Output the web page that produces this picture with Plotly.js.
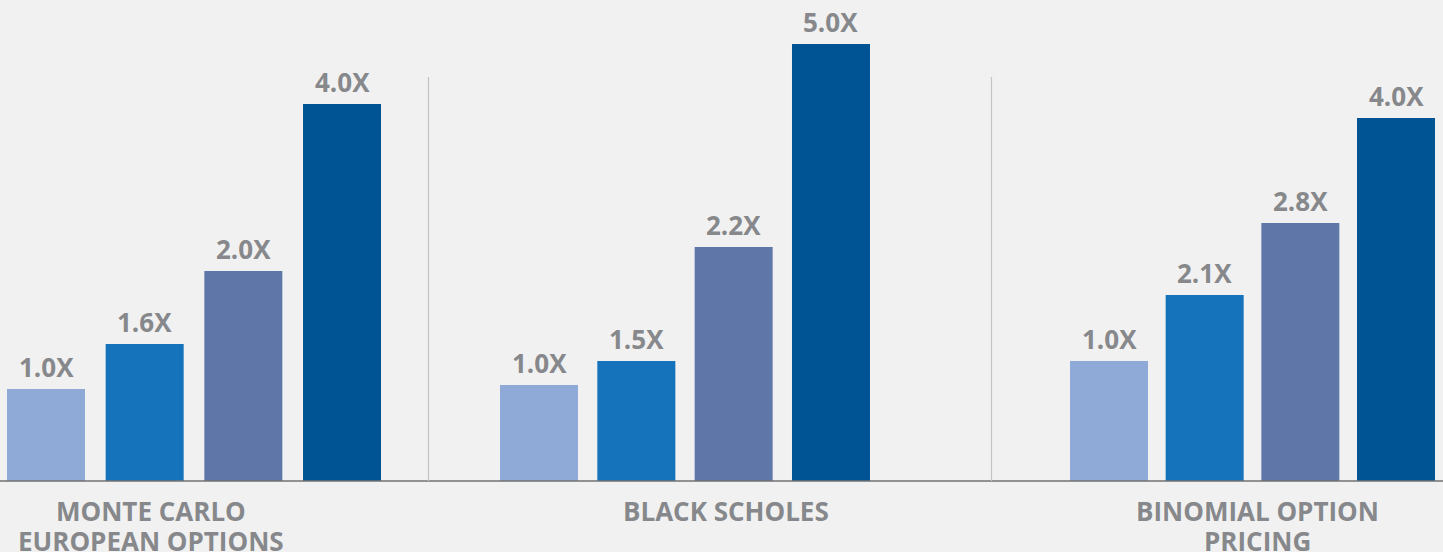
<!DOCTYPE html>
<html>
<head>
<meta charset="utf-8">
<script src="https://cdn.plot.ly/plotly-3.0.1.min.js"></script>
<style>
  html, body { margin: 0; padding: 0; background: #f1f1f1; }
  #chart { width: 1443px; height: 552px; }
</style>
</head>
<body>
<div id="chart"></div>
<script>
// ---- data ----
const groups = ["MONTE CARLO<br>EUROPEAN OPTIONS", "BLACK SCHOLES", "BINOMIAL OPTION<br>PRICING"];
const configs = ["A", "B", "C", "D"];
// drawn bar heights (relative units, as measured on the picture)
const monteCarloHeights = [0.92, 1.37, 2.10, 3.77];
const blackScholesHeights = [0.96, 1.20, 2.34, 4.37];
const binomialHeights = [1.20, 1.86, 2.58, 3.63];
// printed speed-up labels
const monteCarloLabels = ["1.0X", "1.6X", "2.0X", "4.0X"];
const blackScholesLabels = ["1.0X", "1.5X", "2.2X", "5.0X"];
const binomialLabels = ["1.0X", "2.1X", "2.8X", "4.0X"];

// ---- styling ----
const barColors = ["#8faad6", "#1473bb", "#5e77a8", "#005494"];
const textGray = "#86888b";
const W = 1443, H = 552, MB = 71;
const plotH = H - MB;

// layout of each group's axis: first bar centre (px) and bar pitch (px)
const groupGeom = [
  { c0: 46, pitch: 98.67, label: 150.7 },
  { c0: 539, pitch: 97.33, label: 725.5 },
  { c0: 1109, pitch: 95.67, label: 1257.5 }
];
const barPx = 78;

function axisFor(g) {
  const left = Math.max(0, g.c0 - g.pitch / 2);
  const right = Math.min(W, g.c0 + 3.5 * g.pitch);
  return {
    domain: [left / W, right / W],
    range: [(left - g.c0) / g.pitch, (right - g.c0) / g.pitch],
    type: "category",
    anchor: "y",
    visible: false,
    fixedrange: true
  };
}

const heights = [monteCarloHeights, blackScholesHeights, binomialHeights];
const labels = [monteCarloLabels, blackScholesLabels, binomialLabels];
const axisIds = ["x", "x2", "x3"];

const traces = heights.map((h, i) => ({
  type: "bar",
  x: configs,
  y: h,
  marker: { color: barColors, line: { width: 0 } },
  width: barPx / groupGeom[i].pitch,
  xaxis: axisIds[i],
  yaxis: "y",
  hoverinfo: "skip",
  showlegend: false
}));

const labelFont = { family: "Open Sans", size: 26, color: textGray, weight: 700 };

// value labels above bars
const valueAnnotations = [];
heights.forEach((h, i) => {
  h.forEach((v, j) => {
    valueAnnotations.push({
      text: labels[i][j],
      xref: axisIds[i], yref: "y",
      x: configs[j], y: v,
      xanchor: "center", yanchor: "bottom",
      yshift: 2,
      showarrow: false,
      font: labelFont
    });
  });
});

// group names below the baseline (one annotation per line for tight spacing)
const groupAnnotations = [];
groups.forEach((g, i) => {
  g.split("<br>").forEach((line, k) => {
    groupAnnotations.push({
      text: line,
      xref: "paper", yref: "paper",
      x: groupGeom[i].label / W, y: 0,
      xanchor: "center", yanchor: "top",
      yshift: -10 - 29.5 * k,
      showarrow: false,
      font: labelFont
    });
  });
});

const layout = {
  width: W,
  height: H,
  margin: { l: 0, r: 0, t: 0, b: MB, pad: 0 },
  paper_bgcolor: "#f1f1f1",
  plot_bgcolor: "#f1f1f1",
  showlegend: false,
  hovermode: false,
  xaxis: axisFor(groupGeom[0]),
  xaxis2: axisFor(groupGeom[1]),
  xaxis3: axisFor(groupGeom[2]),
  yaxis: { range: [0, plotH / 100], visible: false, fixedrange: true, domain: [0, 1] },
  shapes: [
    { type: "line", xref: "paper", yref: "paper", x0: 0, x1: 1, y0: 0, y1: 0,
      line: { color: "#707070", width: 1.5 } },
    { type: "line", xref: "paper", yref: "paper", x0: 428.5 / W, x1: 428.5 / W, y0: 0, y1: (plotH - 77) / plotH,
      line: { color: "#c4c4c4", width: 1.2 } },
    { type: "line", xref: "paper", yref: "paper", x0: 991.5 / W, x1: 991.5 / W, y0: 0, y1: (plotH - 77) / plotH,
      line: { color: "#c4c4c4", width: 1.2 } }
  ],
  annotations: valueAnnotations.concat(groupAnnotations)
};

Plotly.newPlot("chart", traces, layout, { displayModeBar: false, staticPlot: true });
</script>
</body>
</html>
